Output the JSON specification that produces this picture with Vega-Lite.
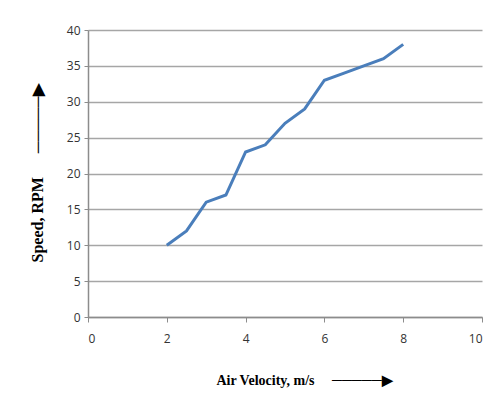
{
  "$schema": "https://vega.github.io/schema/vega-lite/v6.json",
  "width": 394,
  "height": 287,
  "autosize": {"type": "none"},
  "padding": {"left": 88, "top": 30, "right": 17, "bottom": 97},
  "background": "white",
  "data": {"values": [
    {"v": 2, "s": 10}, {"v": 2.5, "s": 12}, {"v": 3, "s": 16}, {"v": 3.5, "s": 17},
    {"v": 4, "s": 23}, {"v": 4.5, "s": 24}, {"v": 5, "s": 27}, {"v": 5.5, "s": 29},
    {"v": 6, "s": 33}, {"v": 6.5, "s": 34}, {"v": 7, "s": 35}, {"v": 7.5, "s": 36},
    {"v": 8, "s": 38}
  ]},
  "mark": {"type": "line", "color": "#4a7ebb", "strokeWidth": 3},
  "encoding": {
    "x": {
      "field": "v", "type": "quantitative",
      "scale": {"domain": [0, 10], "nice": false},
      "axis": {
        "values": [0, 2, 4, 6, 8, 10], "grid": false,
        "title": "Air Velocity, m/s\u00a0\u00a0\u00a0\u00a0\u00a0\u2500\u2500\u2500\u2500\u2500\u25b6",
        "titleFont": "Liberation Serif", "titleFontSize": 14, "titleFontWeight": "bold", "titleColor": "#000",
        "titleX": 216, "titleY": 63, "titleAnchor": "middle", "titleBaseline": "middle",
        "domainColor": "#8c8c8c", "domainWidth": 1.5,
        "tickColor": "#8c8c8c", "tickSize": 5,
        "labelFont": "Open Sans", "labelFontSize": 12, "labelColor": "#333", "labelPadding": 11
      }
    },
    "y": {
      "field": "s", "type": "quantitative",
      "scale": {"domain": [0, 40], "nice": false},
      "axis": {
        "values": [0, 5, 10, 15, 20, 25, 30, 35, 40], "grid": true,
        "gridColor": "#a6a6a6", "gridWidth": 1.5,
        "title": "Speed, RPM\u00a0\u00a0\u00a0\u00a0\u00a0\u00a0\u2500\u2500\u2500\u2500\u2500\u25b6",
        "titleFont": "Liberation Serif", "titleFontSize": 16, "titleFontWeight": "bold", "titleColor": "#000",
        "titleX": -51, "titleY": 143, "titleAngle": -90, "titleAnchor": "middle", "titleBaseline": "middle", "titleAlign": "center",
        "domainColor": "#8c8c8c", "domainWidth": 1.5,
        "tickColor": "#8c8c8c", "tickSize": 4,
        "labelFont": "Open Sans", "labelFontSize": 12, "labelColor": "#333", "labelPadding": 4
      }
    }
  },
  "config": {"view": {"stroke": null}}
}
